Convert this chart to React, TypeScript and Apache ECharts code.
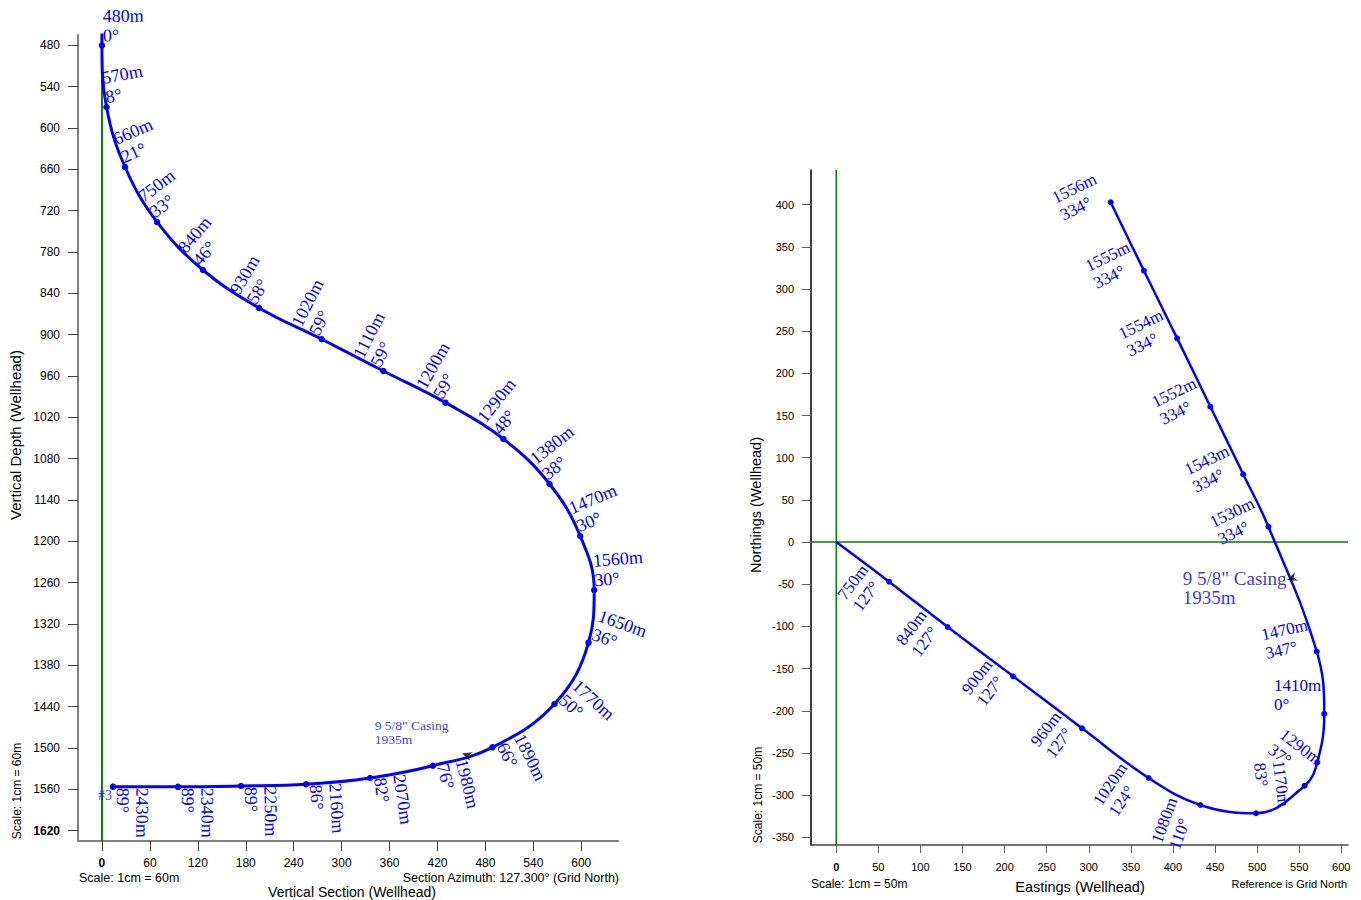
import React, { useEffect, useRef } from 'react';
import * as echarts from 'echarts';

// ---------------- Vertical section (left plot) ----------------
const sectionMd = [480, 570, 660, 750, 840, 930, 1020, 1110, 1200, 1290, 1380, 1470, 1560, 1650, 1770, 1890, 1980, 2070, 2160, 2250, 2340, 2430];
const sectionInc = [0, 8, 21, 33, 46, 58, 59, 59, 59, 48, 38, 30, 30, 36, 50, 66, 76, 82, 86, 89, 89, 89];
const sectionVs = [0, 5.7, 28.9, 68.9, 126.5, 196.7, 275.2, 352.3, 430, 502.6, 560.3, 598.7, 616.2, 609.1, 566.5, 488.8, 414.2, 335.7, 255.5, 174.1, 95.2, 13.8];
const sectionTvd = [480, 569.5, 656.6, 736.4, 806.1, 861.3, 906.7, 952.7, 998.7, 1051.4, 1116.8, 1192.3, 1270.7, 1347.1, 1436.1, 1499, 1525.7, 1543.5, 1552.7, 1555.2, 1556.4, 1556.2];
const sectionSurface = [0, 0];
const sectionXRange = [-30, 646];
const sectionYRange = [465, 1635];
const sectionXTicks = [0, 60, 120, 180, 240, 300, 360, 420, 480, 540, 600];
const sectionYTicks = [480, 540, 600, 660, 720, 780, 840, 900, 960, 1020, 1080, 1140, 1200, 1260, 1320, 1380, 1440, 1500, 1560, 1620];
const sectionCasing = [456.6, 1510];

// ---------------- Plan view (right plot) ----------------
const planStart = [0, 0];
const planMd = [750, 840, 900, 960, 1020, 1080, 1170, 1290, null, 1410, 1470, 1530, 1543, 1552, 1554, 1555, 1556];
const planAzi = [127, 127, 127, 127, 124, 110, 83, 37, null, 0, 347, 334, 334, 334, 334, 334, 334];
const planEast = [62.7, 132.4, 210.2, 292, 371.2, 432.5, 498.7, 556.6, 571.5, 579.8, 570.9, 513.4, 483.5, 444.5, 405, 365.5, 326];
const planNorth = [-46.9, -100.6, -159.1, -220.7, -279.6, -311.6, -321.4, -288.7, -261, -203.7, -129.9, 18.3, 80.4, 160.5, 241.5, 321.7, 402.7];
const planXRange = [-30, 608];
const planYRange = [-359, 441];
const planXTicks = [0, 50, 100, 150, 200, 250, 300, 350, 400, 450, 500, 550, 600];
const planYTicks = [-350, -300, -250, -200, -150, -100, -50, 0, 50, 100, 150, 200, 250, 300, 350, 400];
const planCasing = [541.2, -42.9];

const casingName = '9 5/8" Casing';
const casingMd = 1935;
const wellName = '#3';

const SERIF = '"Liberation Serif", "Times New Roman", Times, serif';
const SANS = '"Liberation Sans", Arial, Helvetica, sans-serif';
const BLUE = '#0000ff';
const GREEN = '#008000';

function valueAxis(o: any) {
  return {
    type: 'value',
    gridIndex: o.gridIndex,
    min: o.min,
    max: o.max,
    inverse: !!o.inverse,
    position: o.position,
    splitLine: { show: false },
    axisLine: { show: true, onZero: false, lineStyle: { color: o.lineColor, width: o.lineWidth } },
    axisTick: { show: true, inside: false, length: o.tickLen, customValues: o.ticks, lineStyle: { color: o.tickColor, width: 1 } },
    axisLabel: {
      show: true,
      customValues: o.ticks,
      margin: o.margin,
      fontSize: o.fontSize,
      fontFamily: SANS,
      color: '#000',
      formatter: (v: number) => (v === o.bold ? `{b|${v}}` : `${v}`),
      rich: { b: { fontWeight: 'bold', fontSize: o.fontSize, fontFamily: SANS, color: '#000' } },
    },
  };
}

function txt(x: number, y: number, text: string, fontSize: number, align = 'left', rotation = 0) {
  return {
    type: 'text',
    x,
    y,
    rotation,
    silent: true,
    style: { text, fontSize, fontFamily: SANS, fill: '#000', align, verticalAlign: 'middle' },
  };
}

function buildOption(sectionRot: number[] | null) {
  const ctx = document.createElement('canvas').getContext('2d') as CanvasRenderingContext2D;
  ctx.font = `17px ${SERIF}`;
  const measure = (s: string) => ctx.measureText(s).width;

  const sectionData: any[] = [
    { value: sectionSurface, symbol: 'none', label: { show: false } },
    ...sectionMd.map((md, i) => ({
      value: [sectionVs[i], sectionTvd[i]],
      text: `${md}m\n${sectionInc[i]}°`,
      label: { rotate: sectionRot ? sectionRot[i] : 0 },
    })),
  ];

  const planData: any[] = [
    { value: planStart, symbol: 'none', label: { show: false } },
    ...planMd.map((md, i) => {
      if (md == null) return { value: [planEast[i], planNorth[i]], label: { show: false } };
      const az = planAzi[i] as number;
      let r = 180 - az;
      while (r > 90) r -= 180;
      while (r <= -90) r += 180;
      const l1 = `${md}m`;
      const l2 = `${az}°`;
      const w = Math.max(measure(l1), measure(l2));
      return { value: [planEast[i], planNorth[i]], text: `${l1}\n${l2}`, label: { rotate: r, offset: [-(w + 3), 0] } };
    }),
  ];

  const lastIdx = sectionVs.length - 1;
  const casingText = `${casingName}\n${casingMd}m`;
  const casingSymbol = 'path://M0,0 L10,5 L0,10 L3,5 Z';

  return {
    animation: false,
    backgroundColor: '#ffffff',
    grid: [
      { left: 78, top: 35, width: 540, height: 806, outerBoundsMode: 'none' },
      { left: 811, top: 170, width: 537, height: 675, outerBoundsMode: 'none' },
    ],
    xAxis: [
      valueAxis({ gridIndex: 0, min: sectionXRange[0], max: sectionXRange[1], position: 'bottom', ticks: sectionXTicks, lineColor: '#808080', lineWidth: 2, tickLen: 10, tickColor: '#444', margin: 16, fontSize: 12, bold: 0 }),
      valueAxis({ gridIndex: 1, min: planXRange[0], max: planXRange[1], position: 'bottom', ticks: planXTicks, lineColor: '#444', lineWidth: 1.5, tickLen: 8, tickColor: '#666', margin: 16, fontSize: 11, bold: 0 }),
    ],
    yAxis: [
      valueAxis({ gridIndex: 0, min: sectionYRange[0], max: sectionYRange[1], inverse: true, position: 'left', ticks: sectionYTicks, lineColor: '#808080', lineWidth: 2, tickLen: 10, tickColor: '#444', margin: 18, fontSize: 12, bold: 1620 }),
      valueAxis({ gridIndex: 1, min: planYRange[0], max: planYRange[1], position: 'left', ticks: planYTicks, lineColor: '#000', lineWidth: 1.5, tickLen: 9, tickColor: '#666', margin: 17, fontSize: 11, bold: null }),
    ],
    graphic: [
      txt(15, 435, 'Vertical Depth (Wellhead)', 15, 'center', Math.PI / 2),
      txt(17, 791, 'Scale: 1cm = 60m', 12, 'center', Math.PI / 2),
      txt(79, 878, 'Scale: 1cm = 60m', 12.5),
      txt(619, 878, 'Section Azimuth: 127.300° (Grid North)', 12.5, 'right'),
      txt(352, 892, 'Vertical Section (Wellhead)', 14, 'center'),
      txt(756, 505, 'Northings (Wellhead)', 14.5, 'center', Math.PI / 2),
      txt(758, 795, 'Scale: 1cm = 50m', 12, 'center', Math.PI / 2),
      txt(811, 884, 'Scale: 1cm = 50m', 12),
      txt(1080, 887, 'Eastings (Wellhead)', 14.5, 'center'),
      txt(1347, 884, 'Reference is Grid North', 11, 'right'),
    ],
    series: [
      {
        type: 'line', name: 'Section wellhead', xAxisIndex: 0, yAxisIndex: 0, silent: true, z: 1,
        data: [[0, sectionYRange[0]], [0, sectionYRange[1]]],
        symbol: 'none', lineStyle: { color: GREEN, width: 2 },
      },
      {
        type: 'line', name: 'Vertical section', xAxisIndex: 0, yAxisIndex: 0, silent: true, z: 3,
        data: sectionData, smooth: 0.4, symbol: 'circle', symbolSize: 6.5,
        itemStyle: { color: BLUE }, lineStyle: { color: BLUE, width: 3 },
        emphasis: { disabled: true },
        label: {
          show: true, position: ['50%', '50%'], align: 'left', verticalAlign: 'bottom', offset: [1, 0],
          formatter: (p: any) => (p.data && p.data.text) || '',
          fontFamily: SERIF, fontSize: 18, lineHeight: 19.5, color: BLUE,
        },
      },
      {
        type: 'scatter', name: 'Section casing', xAxisIndex: 0, yAxisIndex: 0, silent: true, z: 5,
        data: [sectionCasing], symbol: casingSymbol, symbolSize: [10, 9], symbolRotate: 160,
        itemStyle: { color: '#000' },
        label: {
          show: true, position: ['50%', '50%'], align: 'left', verticalAlign: 'bottom', offset: [-92, -8],
          formatter: casingText, fontFamily: SERIF, fontSize: 13.5, lineHeight: 14, color: BLUE,
        },
      },
      {
        type: 'scatter', name: 'Well', xAxisIndex: 0, yAxisIndex: 0, silent: true, z: 4,
        data: [[sectionVs[lastIdx], sectionTvd[lastIdx]]], symbol: 'circle', symbolSize: 6.5,
        itemStyle: { color: BLUE },
        label: {
          show: true, position: ['50%', '50%'], align: 'right', verticalAlign: 'middle', offset: [-1, 9],
          formatter: wellName, fontFamily: SERIF, fontSize: 14, color: BLUE,
        },
      },
      {
        type: 'line', name: 'Plan easting zero', xAxisIndex: 1, yAxisIndex: 1, silent: true, z: 1,
        data: [[0, planYRange[0]], [0, planYRange[1]]],
        symbol: 'none', lineStyle: { color: GREEN, width: 1.5 },
      },
      {
        type: 'line', name: 'Plan northing zero', xAxisIndex: 1, yAxisIndex: 1, silent: true, z: 1,
        data: [[planXRange[0], 0], [planXRange[1], 0]],
        symbol: 'none', lineStyle: { color: GREEN, width: 1.5 },
      },
      {
        type: 'line', name: 'Plan view', xAxisIndex: 1, yAxisIndex: 1, silent: true, z: 3,
        data: planData, smooth: 0.4, symbol: 'circle', symbolSize: 6,
        itemStyle: { color: BLUE }, lineStyle: { color: BLUE, width: 2.5 },
        emphasis: { disabled: true },
        label: {
          show: true, position: ['50%', '50%'], align: 'left', verticalAlign: 'bottom',
          formatter: (p: any) => (p.data && p.data.text) || '',
          fontFamily: SERIF, fontSize: 17, lineHeight: 19, color: BLUE,
        },
      },
      {
        type: 'scatter', name: 'Plan casing', xAxisIndex: 1, yAxisIndex: 1, silent: true, z: 5,
        data: [planCasing], symbol: casingSymbol, symbolSize: [10, 9], symbolRotate: 200,
        itemStyle: { color: '#000' },
        label: {
          show: true, position: ['50%', '50%'], align: 'left', verticalAlign: 'top', offset: [-109, -9],
          formatter: casingText, fontFamily: SERIF, fontSize: 19, lineHeight: 19, color: BLUE,
        },
      },
    ],
  };
}

export default function App() {
  const ref = useRef<HTMLDivElement>(null);
  useEffect(() => {
    document.body.style.margin = '0';
    const el = ref.current as HTMLDivElement;
    const chart = echarts.init(el, null, { renderer: 'svg' });
    chart.setOption(buildOption(null) as any);
    const toPx = (p: number[]) => chart.convertToPixel({ xAxisIndex: 0, yAxisIndex: 0 } as any, p) as unknown as number[];
    const pts = sectionVs.map((v, i) => toPx([v, sectionTvd[i]]));
    const start = toPx(sectionSurface);
    const rot = pts.map((p, i) => {
      const prev = i === 0 ? start : pts[i - 1];
      const next = i === pts.length - 1 ? p : pts[i + 1];
      return (Math.atan2(next[0] - prev[0], next[1] - prev[1]) * 180) / Math.PI;
    });
    chart.setOption(buildOption(rot) as any);
    return () => chart.dispose();
  }, []);
  return <div ref={ref} style={{ width: 1361, height: 900, background: '#fff' }} />;
}
